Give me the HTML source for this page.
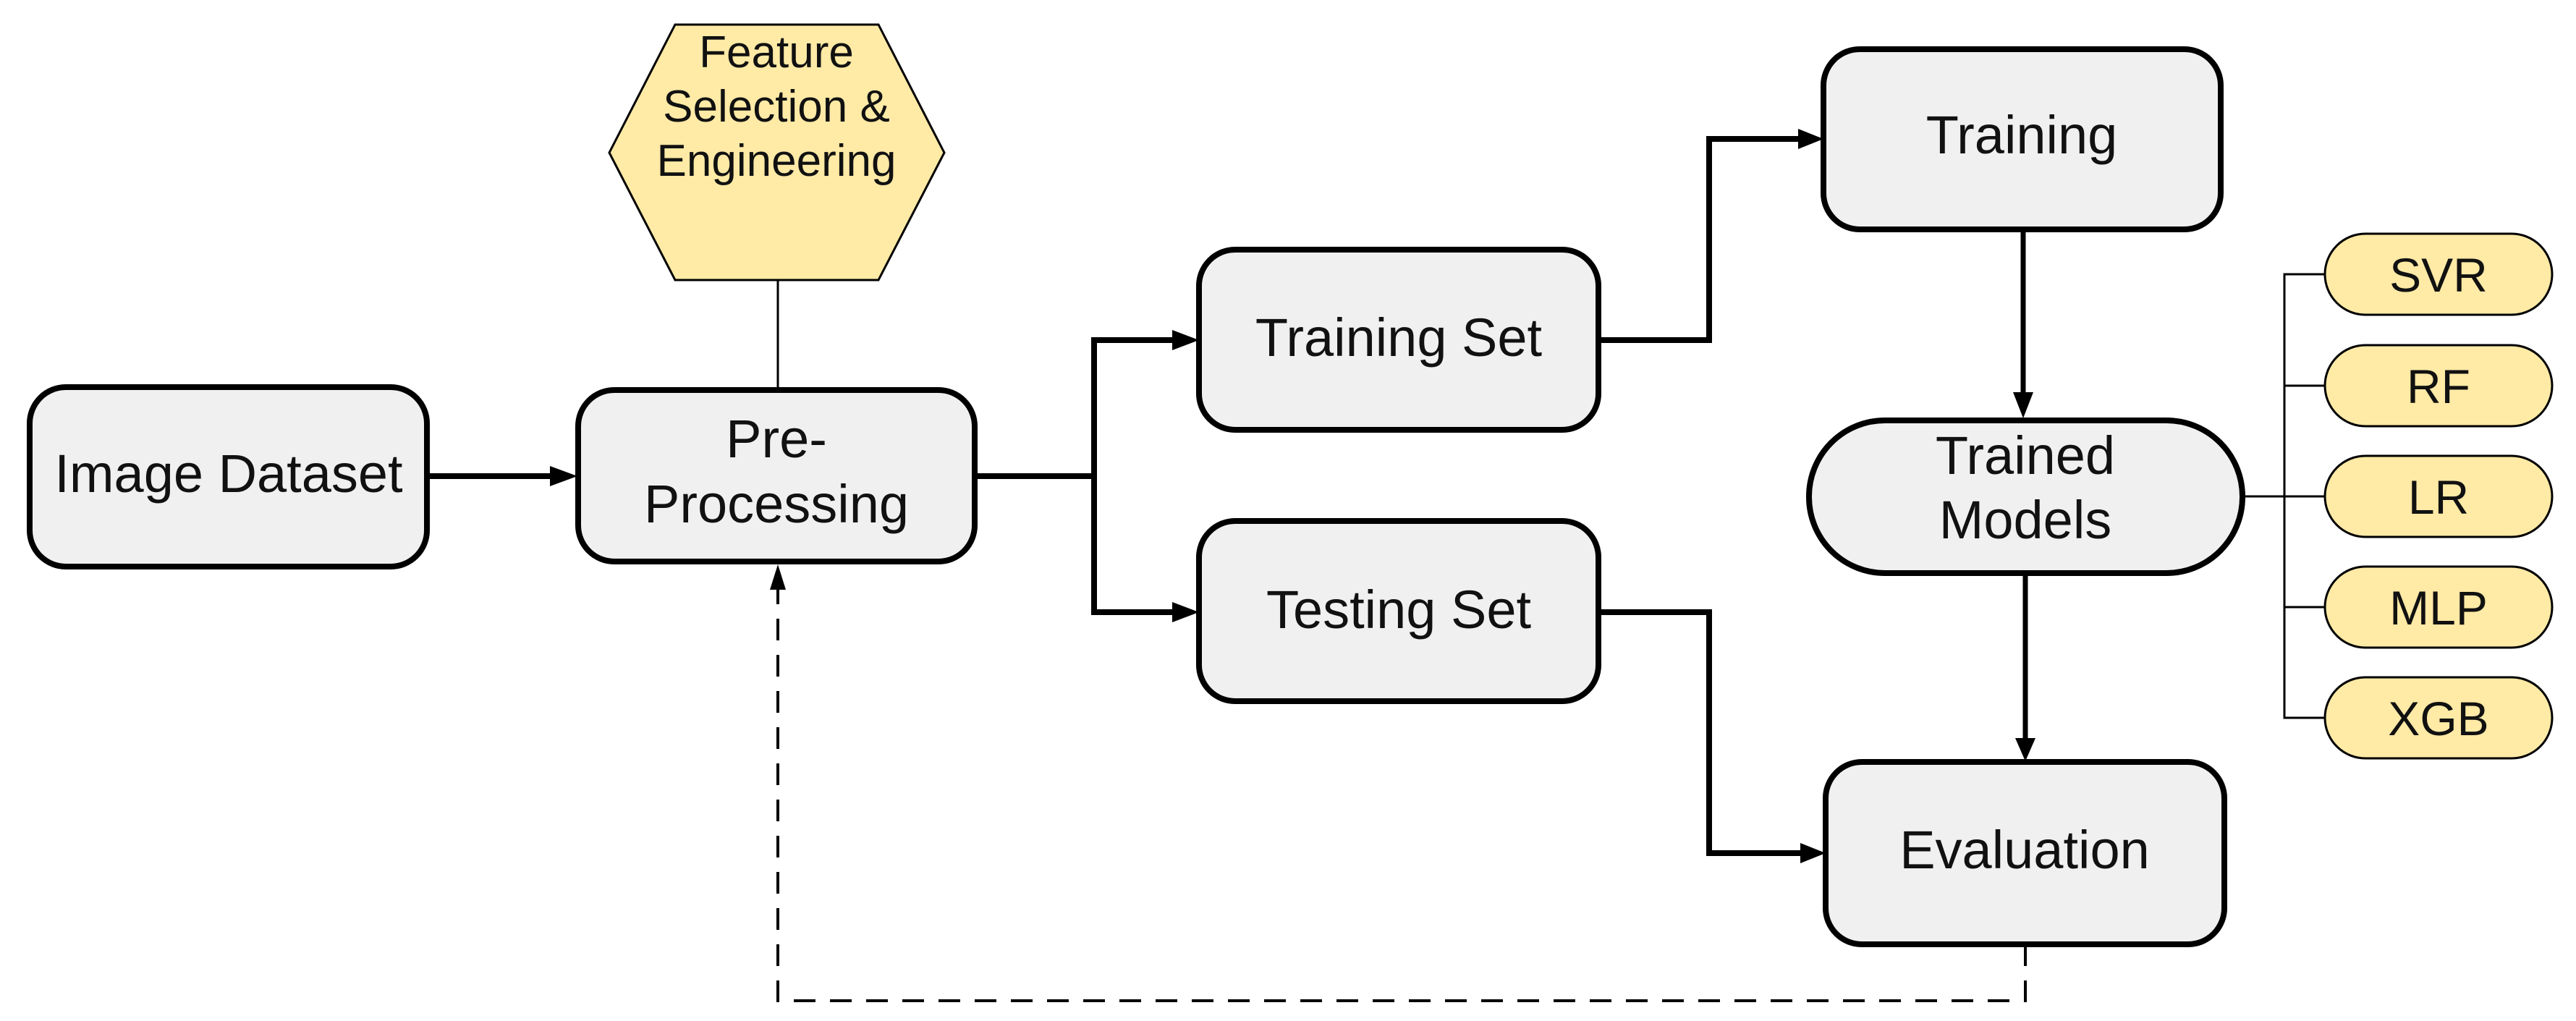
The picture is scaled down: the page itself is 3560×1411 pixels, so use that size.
<!DOCTYPE html>
<html><head><meta charset="utf-8"><style>
html,body{margin:0;padding:0;background:#fff;}
svg{display:block;}
text{font-family:"Liberation Sans",sans-serif;fill:#111;text-anchor:middle;}
</style></head><body>
<svg width="3560" height="1411" viewBox="0 0 3560 1411" xmlns="http://www.w3.org/2000/svg">
<g stroke="#000" fill="none">
<line x1="1075" y1="387" x2="1075" y2="540" stroke-width="3"/>
<polyline points="3099,686 3157,686" stroke-width="3"/>
<polyline points="3213,379 3157,379 3157,992 3213,992" stroke-width="3"/>
<line x1="3157" y1="533" x2="3213" y2="533" stroke-width="3"/>
<line x1="3157" y1="686" x2="3213" y2="686" stroke-width="3"/>
<line x1="3157" y1="839" x2="3213" y2="839" stroke-width="3"/>
<line x1="593" y1="658" x2="760" y2="658" stroke-width="8"/>
<polyline points="1348,658 1512,658" stroke-width="8"/>
<polyline points="1620,470 1512,470 1512,846 1620,846" stroke-width="8"/>
<polyline points="2209,470 2362,470 2362,192 2485,192" stroke-width="8"/>
<polyline points="2209,846 2362,846 2362,1179 2488,1179" stroke-width="8"/>
<line x1="2796" y1="317" x2="2796" y2="545" stroke-width="7"/>
<line x1="2799" y1="792" x2="2799" y2="1020" stroke-width="7"/>
<polyline points="2799,1305 2799,1383 1075,1383 1075,815" stroke-width="4" stroke-dasharray="30,20"/>
</g>
<g fill="#000">
<polygon points="760,644 798,658 760,672"/>
<polygon points="1620,456 1657,470 1620,484"/>
<polygon points="1620,832 1657,846 1620,860"/>
<polygon points="2485,178 2520,192 2485,206"/>
<polygon points="2488,1165 2523,1179 2488,1193"/>
<polygon points="2782,542 2810,542 2796,578"/>
<polygon points="2785,1020 2813,1020 2799,1052"/>
<polygon points="1064,815 1086,815 1075,780"/>
</g>
<g stroke="#000" stroke-width="8" fill="#f0f0f0">
<rect x="41" y="535" width="549" height="248" rx="50"/>
<rect x="799" y="539" width="548" height="237" rx="50"/>
<rect x="1657" y="345" width="552" height="249" rx="50"/>
<rect x="1657" y="720" width="552" height="249" rx="50"/>
<rect x="2520" y="68" width="549" height="249" rx="50"/>
<rect x="2500" y="581" width="599" height="211" rx="105"/>
<rect x="2523" y="1053" width="551" height="252" rx="50"/>
</g>
<polygon points="933,34 1214,34 1305,211 1214,387 933,387 842,211" fill="#ffeaa6" stroke="#000" stroke-width="3"/>
<g fill="#ffeaa6" stroke="#000" stroke-width="3">
<rect x="3213" y="323" width="314" height="112" rx="56"/>
<rect x="3213" y="477" width="314" height="112" rx="56"/>
<rect x="3213" y="630" width="314" height="112" rx="56"/>
<rect x="3213" y="783" width="314" height="112" rx="56"/>
<rect x="3213" y="936" width="314" height="112" rx="56"/>
</g>
<g font-size="74">
<text x="316" y="680">Image Dataset</text>
<text x="1073" y="632">Pre-</text>
<text x="1073" y="722">Processing</text>
<text x="1933" y="492">Training Set</text>
<text x="1933" y="868">Testing Set</text>
<text x="2794" y="212">Training</text>
<text x="2799" y="655">Trained</text>
<text x="2799" y="744">Models</text>
<text x="2798" y="1200">Evaluation</text>
</g>
<g font-size="62">
<text x="1073" y="93">Feature</text>
<text x="1073" y="168">Selection  &amp;</text>
<text x="1073" y="243">Engineering</text>
</g>
<g font-size="66">
<text x="3370" y="403">SVR</text>
<text x="3370" y="557">RF</text>
<text x="3370" y="710">LR</text>
<text x="3370" y="863">MLP</text>
<text x="3370" y="1016">XGB</text>
</g>
</svg>
</body></html>
